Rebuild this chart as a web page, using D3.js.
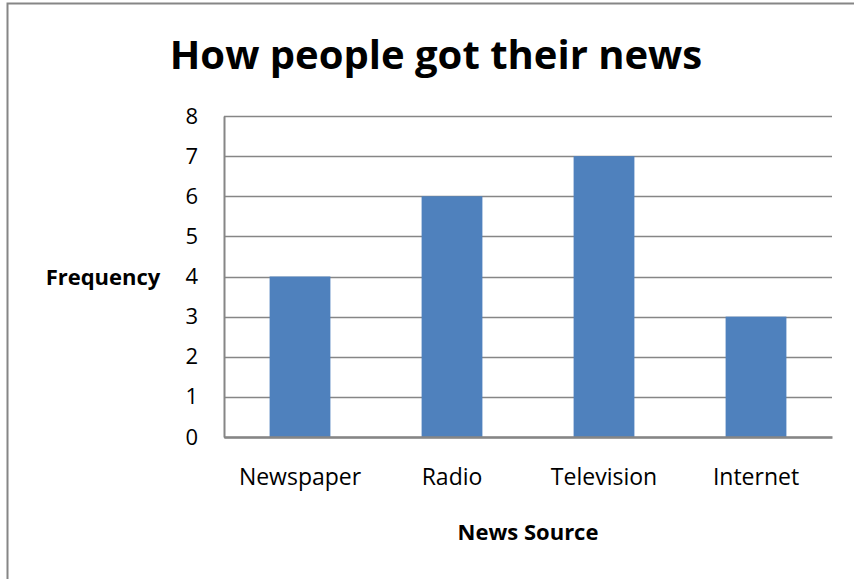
<!DOCTYPE html>
<html>
<head>
<meta charset="utf-8">
<script src="https://cdn.jsdelivr.net/npm/d3@7"></script>
<style>
  body { margin: 0; background: #fff; }
  text { font-family: "Open Sans", Lato, sans-serif; fill: #000; }
</style>
</head>
<body>
<div id="maincontent"></div>
<script>
var width = 854, height = 579;

// chart data
var categories = ["Newspaper", "Radio", "Television", "Internet"];
var frequency = [4, 6, 7, 3];
var yTicks = [0, 1, 2, 3, 4, 5, 6, 7, 8];

var margin = {top: 116, right: 22, bottom: 142, left: 224};

var svg = d3.select("#maincontent").append("svg")
    .attr("width", width)
    .attr("height", height);

// outer chart border (right edge is cut off in the picture)
svg.append("rect")
    .attr("x", 7.5).attr("y", 3.5)
    .attr("width", width + 10).attr("height", height - 2)
    .attr("fill", "none")
    .attr("stroke", "#868686")
    .attr("stroke-width", 2);

var g = svg.append("g").attr("transform", "translate(" + margin.left + "," + margin.top + ")");
var w = width - margin.left - margin.right,
    h = height - margin.top - margin.bottom;

var x = d3.scaleBand()
    .domain(categories)
    .range([0, w])
    .paddingInner(0.6)
    .paddingOuter(0.3);

var y = d3.scaleLinear()
    .domain([0, 8])
    .range([h, 0]);

// gridlines
g.selectAll(".grid")
    .data(yTicks)
    .enter().append("line")
    .attr("class", "grid")
    .attr("x1", 0).attr("x2", w)
    .attr("y1", function (d) { return Math.round(y(d)) + 0.5 })
    .attr("y2", function (d) { return Math.round(y(d)) + 0.5 })
    .attr("stroke", "#868686")
    .attr("stroke-width", 1.5);

// bars
g.selectAll(".bar")
    .data(frequency)
    .enter().append("rect")
    .attr("class", "bar")
    .attr("x", function (d, i) { return x(categories[i]) })
    .attr("y", function (d) { return y(d) })
    .attr("width", x.bandwidth())
    .attr("height", function (d) { return h - y(d) })
    .attr("fill", "#4F81BD");

// y axis
var yAxis = g.append("g")
    .call(d3.axisLeft(y).tickValues(yTicks).tickSize(0).tickPadding(26).tickFormat(d3.format("d")));
yAxis.select(".domain").attr("stroke", "#868686").attr("stroke-width", 2);
yAxis.selectAll("text").style("font-size", "22px").attr("fill", "#000");

// x axis
var xAxis = g.append("g")
    .attr("transform", "translate(0," + h + ")")
    .call(d3.axisBottom(x).tickSize(0).tickPadding(32));
xAxis.select(".domain").attr("stroke", "#868686").attr("stroke-width", 2.5);
xAxis.selectAll("text").style("font-size", "23px").attr("fill", "#000");

// title
svg.append("text")
    .attr("x", 436).attr("y", 69)
    .attr("text-anchor", "middle")
    .style("font-size", "40px")
    .style("font-weight", "bold")
    .text("How people got their news");

// axis titles
svg.append("text")
    .attr("x", 528).attr("y", 540)
    .attr("text-anchor", "middle")
    .style("font-size", "22px")
    .style("font-weight", "bold")
    .text("News Source");

svg.append("text")
    .attr("x", 103).attr("y", 285)
    .attr("text-anchor", "middle")
    .style("font-size", "22px")
    .style("font-weight", "bold")
    .text("Frequency");
</script>
</body>
</html>
